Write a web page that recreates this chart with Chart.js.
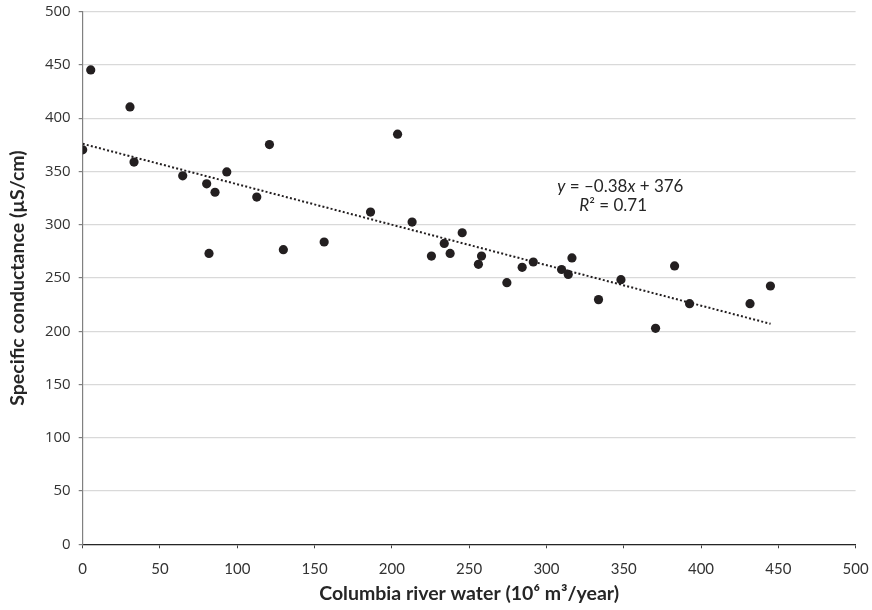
<!DOCTYPE html>
<html>
<head>
<meta charset="utf-8">
<script src="https://cdn.jsdelivr.net/npm/chart.js@4/dist/chart.umd.min.js"></script>
<style>
  html, body { margin: 0; padding: 0; background: #ffffff; }
  canvas { display: block; }
</style>
</head>
<body>
<canvas id="c" width="872" height="610"></canvas>
<script>
// Columbia river water (10^6 m3/year)
const riverWater = [0, 5.2, 30.6, 33.2, 64.7, 80.2, 81.7, 85.6, 93.2, 112.6,
  120.8, 129.8, 156.2, 186.2, 203.7, 213.1, 225.6, 233.9, 237.7, 245.5,
  256, 258, 274.4, 284.3, 291.5, 309.8, 314.1, 316.5, 333.7, 348.2,
  370.6, 382.9, 392.6, 431.7, 444.9];
// Specific conductance (µS/cm)
const conductance = [370.3, 445.3, 410.6, 358.8, 345.9, 338.4, 273.1, 330.5, 349.6, 326,
  375.3, 276.6, 283.8, 311.9, 385, 302.5, 270.6, 282.5, 273.1, 292.5,
  262.8, 270.6, 245.6, 260, 265, 258, 253.4, 268.8, 229.7, 248.4,
  202.8, 261.3, 225.9, 225.9, 242.5];
// Trend line end points
const trendX = [0, 445];
const trendY = [376, 207];
// Equation label lines
const eqLine1 = [["y", true], [" = \u20130.38", false], ["x", true], [" + 376", false]];
const eqLine2 = [["R", true], ["\u00B2", false], [" = 0.71", false]];
const eqAnchor = { x: 307, y: 336 };   // data units where equation text starts
const xTicks = [0, 50, 100, 150, 200, 250, 300, 350, 400, 450, 500];

const scatterPts = riverWater.map((x, i) => ({ x: x, y: conductance[i] }));
const trendPts = trendX.map((x, i) => ({ x: x, y: trendY[i] }));

const eqPlugin = {
  id: 'eqPlugin',
  afterDatasetsDraw(chart) {
    const ctx = chart.ctx;
    const xs = chart.scales.x, ys = chart.scales.y;
    const px = xs.getPixelForValue(eqAnchor.x);
    const py = ys.getPixelForValue(eqAnchor.y);
    ctx.save();
    ctx.fillStyle = '#262626';
    ctx.textBaseline = 'middle';
    ctx.textAlign = 'left';
    const size = 17;
    function drawLine(parts, x, y) {
      let cx = x;
      for (const [t, it] of parts) {
        ctx.font = (it ? 'italic ' : '') + size + 'px Lato';
        ctx.fillText(t, cx, y);
        cx += ctx.measureText(t).width;
      }
    }
    drawLine(eqLine1, px, py);
    drawLine(eqLine2, px + 22, py + 19);
    ctx.restore();
  }
};

new Chart(document.getElementById('c'), {
  type: 'scatter',
  data: {
    datasets: [
      {
        label: 'Data',
        data: scatterPts,
        backgroundColor: '#231f20',
        borderWidth: 0,
        pointRadius: 4.6,
        pointHoverRadius: 4.6
      },
      {
        label: 'Trend',
        type: 'line',
        data: trendPts,
        borderColor: '#231f20',
        borderWidth: 2,
        borderDash: [2, 2.2],
        pointRadius: 0,
        fill: false
      }
    ]
  },
  options: {
    responsive: false,
    animation: false,
    events: [],
    layout: { padding: { top: 11.7, right: 16.4, left: 0, bottom: 0 } },
    plugins: { legend: { display: false }, tooltip: { enabled: false } },
    scales: {
      x: {
        type: 'linear',
        min: 0, max: 500,
        afterBuildTicks: (s) => { s.ticks = xTicks.map(v => ({ value: v })); },
        afterFit: (s) => { s.height = 65.7; s.paddingLeft = 0; s.paddingRight = 0; },
        grid: { drawOnChartArea: false, drawTicks: true, tickLength: 4, tickColor: '#404040' },
        border: { color: '#262626', width: 1.3 },
        ticks: { padding: 12, color: '#333333', font: { family: 'Lato', size: 15 }, maxRotation: 0 },
        title: {
          display: true,
          text: 'Columbia river water (10\u2076 m\u00B3/year)',
          color: '#262626',
          font: { family: 'Lato', size: 19.5, weight: 'bold' },
          padding: { top: 0, bottom: 4.3 }
        }
      },
      y: {
        type: 'linear',
        min: 0, max: 500,
        ticks: { stepSize: 50, padding: 8, color: '#333333', font: { family: 'Open Sans', size: 15 } },
        afterFit: (s) => { s.width = 82.7; s.paddingTop = 0; s.paddingBottom = 0; },
        grid: { color: '#d9d9d9', lineWidth: 1.2, drawTicks: true, tickLength: 4, tickColor: '#808080' },
        border: { color: '#808080', width: 1.2 },
        title: {
          display: true,
          text: 'Specific conductance (\u00B5S/cm)',
          color: '#262626',
          font: { family: 'Lato', size: 19.5, weight: 'bold' },
          padding: { top: 6.3, bottom: 0 }
        }
      }
    }
  },
  plugins: [eqPlugin]
});
</script>
</body>
</html>
